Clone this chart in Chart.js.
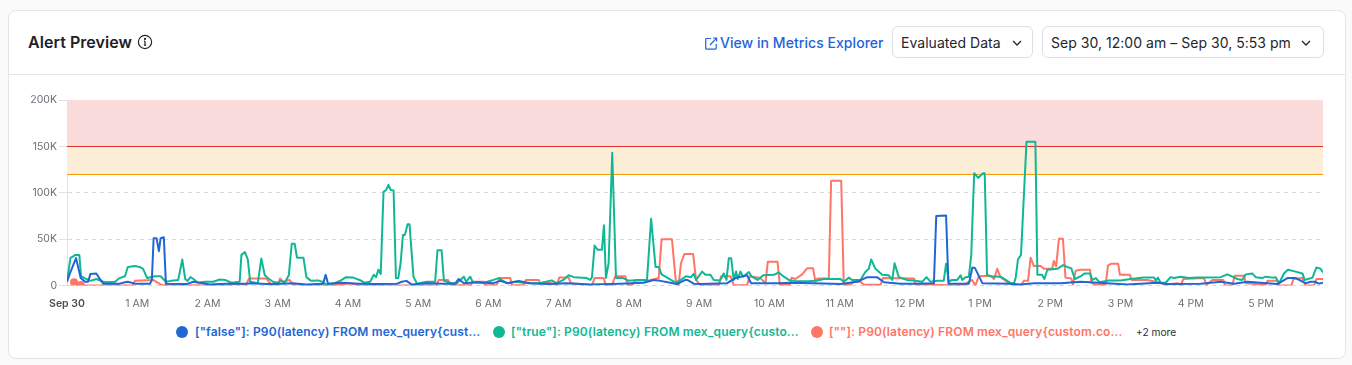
<!DOCTYPE html>
<html>
<head>
<meta charset="utf-8">
<title>Alert Preview</title>
<script src="https://cdn.jsdelivr.net/npm/chart.js@4"></script>
<style>
	html, body { margin: 0; padding: 0; background: #fafafa; font-family: Inter, sans-serif; }
	body { width: 1352px; height: 365px; overflow: hidden; position: relative; }
	.card { position: absolute; left: 8px; top: 10px; width: 1336px; height: 347px; background: #fff; border: 1px solid #e3e5ea; border-radius: 8px; box-sizing: content-box; }
	.divider { position: absolute; left: 9px; top: 74px; width: 1336px; height: 1px; background: #e3e5ea; }
	.abs { position: absolute; white-space: nowrap; }
	.title { left: 28px; top: 32px; font-size: 16px; line-height: 20px; font-weight: 600; color: #1d2026; letter-spacing: 0.05px; }
	.link { left: 720px; top: 34px; font-size: 14px; line-height: 18px; font-weight: 500; color: #1f63d8; letter-spacing: 0.05px; }
	.select { top: 26px; height: 32px; box-sizing: border-box; border: 1px solid #dcdfe6; border-radius: 6px; background: #fff; font-size: 14px; line-height: 31px; color: #23262d; padding-left: 8px; letter-spacing: 0.03px; }
	.select svg { position: absolute; top: 10px; }
	#chart-wrap { position: absolute; left: 8px; top: 85px; width: 1337px; height: 230px; }
	.legend-dot { width: 12px; height: 12px; border-radius: 50%; top: 326px; }
	.legend-text { top: 324px; font-size: 12px; line-height: 16px; font-weight: 600; letter-spacing: 0.15px; }
	.more { left: 1136px; top: 325px; font-size: 10.2px; line-height: 14px; color: #2b2e35; }
</style>
</head>
<body>
<div class="card"></div>
<div class="divider"></div>
<div class="abs title">Alert Preview</div>
<svg class="abs" style="left:137px;top:34px" width="16" height="16" viewBox="0 0 16 16" fill="none" stroke="#23262d" stroke-width="1.2">
	<circle cx="8" cy="8" r="6.6"></circle><path d="M8 7.2v4M6.8 11.2h2.4M6.9 7.2H8"></path><circle cx="8" cy="4.9" r="0.5" fill="#23262d"></circle>
</svg>
<svg class="abs" style="left:705px;top:37px" width="13" height="13" viewBox="0 0 13 13" fill="none" stroke="#1f63d8" stroke-width="1.2">
	<path d="M6 1.5H1.5a.8.8 0 0 0-.8.8v8.9c0 .5.4.9.8.9h8.9a.8.8 0 0 0 .8-.9V7"></path><path d="M5 8l6.5-6.8M8 1h3.6v3.6"></path>
</svg>
<div class="abs link">View in Metrics Explorer</div>
<div class="abs select" style="left:892px;width:141px">Evaluated Data
	<svg style="left:118px" width="12" height="12" viewBox="0 0 12 12" fill="none" stroke="#23262d" stroke-width="1.3"><path d="M2 4l4 4 4-4"></path></svg>
</div>
<div class="abs select" style="left:1042px;width:282px">Sep 30, 12:00 am – Sep 30, 5:53 pm
	<svg style="left:257px" width="12" height="12" viewBox="0 0 12 12" fill="none" stroke="#23262d" stroke-width="1.3"><path d="M2 4l4 4 4-4"></path></svg>
</div>
<div id="chart-wrap"><canvas id="alert-chart"></canvas></div>
<div id="legend"></div>
<div class="abs more">+2 more</div>

<script>
var series_names = [
	'["false"]: P90(latency) FROM mex_query{cust...',
	'["true"]: P90(latency) FROM mex_query{custo...',
	'[""]: P90(latency) FROM mex_query{custom.co...'
];
var series_colors = ["#2166d5", "#10b795", "#ff7566"];
var legend_dot_left = [176, 493, 811];
var legend_text_left = [195, 511, 829];

var y_ticks = [0, 50000, 100000, 150000, 200000];
var y_tick_labels = ["0", "50K", "100K", "150K", "200K"];
var x_tick_labels = ["Sep 30", "1 AM", "2 AM", "3 AM", "4 AM", "5 AM", "6 AM", "7 AM", "8 AM", "9 AM", "10 AM", "11 AM", "12 PM", "1 PM", "2 PM", "3 PM", "4 PM", "5 PM"];

// [minutes after midnight, value in K]
var false_points = [
	[0,4],[2.5,13],[7.7,29.5],[11.7,8],[15.4,4],[18,4],[20,12.5],[25,13],[27.6,8],[31,2],[39.5,2],[45,2],[49.5,3.5],[52,4],[58,2],[71,2],[72.5,6],[74,51],[76.5,51],[78.5,37],[80,51],[82.7,52],[84.5,2],
	[102,1.5],[108,4],[116,2.5],[122,1],[136,2],[153,2],[157.5,2.5],[170,1.5],[184.5,2],[193,2.5],[204.5,1],[218.7,2],[221,11.5],[223,2],[234.5,3],[250,2],[263,1.5],[282,2],[286,4],[290,5],[294.6,1],
	[307.4,2.5],[321.6,2],[331.6,2],[334.5,7],[339,2.5],[350,3.5],[364.4,2.5],[370,5],[377,2.5],[385.7,5],[395.7,2.5],[410,1.5],[427,2.5],[447,1],[472.6,2],[492.6,3],[501,6],[507,5],[515.4,3],[521,1.5],[528.2,6],
	[530,6],[535.4,2],[541,1.5],[564,2.5],[571,8],[581,11],[584.4,2.5],[606.7,2.5],[618,3],[638,2.5],[660.8,1.5],[675,4],[683.6,9],[692,9],[698,3.5],[712,2],[723.5,2],[740.6,2.5],[742.6,75],[751,75.5],[753,2],
	[770.5,2],[773.5,19.5],[775.6,19],[782,2.5],[806,2],[814.6,1],[826,2.5],[849,2.5],[866,4],[888.7,2.5],[905.8,1],[931.5,3],[940,1.5],[968.5,2],[985.6,4],[997,2],[1008.4,4],[1034,1.5],[1042.6,8],[1049.7,8],[1058,2.5],[1062.5,4],[1066,4],[1069.6,2],[1073,3]
];
var true_points = [
	[0,4],[3,30],[5,31],[7,33],[10.5,33],[12,10],[15,8],[20,5],[25,7],[31,4],[35,3.5],[41,4],[45,8],[49.5,10],[52,20],[58,21],[62,20],[65,18],[68.5,8],[75,10],[80,10],[84.5,4],[89,5],[95,6],[98.5,28],[101,7],[103,5],[105.5,9],[108,7],[112,3],[118,4],
	[125,4],[130.5,6.5],[135,6],[140.5,3],[147.5,4],[149,33],[152,36],[154.5,28],[156.5,4],[163,2.5],[166,29],[169,11],[172,7.5],[176,4],[180,3],[183,5],[186,3],[189.5,11],[192,45],[194.5,45],[196.5,30],[202,30],[204.5,9],[208.5,5],[214.5,5.5],[219,3.5],[221.5,1],[228.5,2.5],[234,5.5],[238.5,9],[244.5,8.5],[250,6],[254,3],
	[259,4],[262,11.5],[264,9],[266,17],[268,12.5],[270.4,101],[272.7,103],[274.6,108.5],[276.6,103],[279,102.5],[281,8],[283,8],[285,24],[287,54.5],[288.6,54.5],[291,66],[292.6,66],[296,9.5],[299,2],[303,3],[307.4,4],[314.5,4],[316.5,38],[320,38],[322,5],[329,2.5],[333,2.5],[336,6],[339,9.5],[341,4],[344.5,9.5],[346.7,3.5],
	[356,3],[364.4,6],[368.7,8],[375.8,2.5],[383,4],[393,2.5],[404,2.5],[414,5.5],[418.5,2.5],[424,6],[428.5,11],[433,9],[444,8],[447,6],[448.5,9],[450.7,43],[453.4,38.5],[457,38.5],[458.7,65],[460.4,8],[462.7,24],[465.8,143],[469,8],[475,8],[480,5],[487,6],[495.5,6],[499,72],[502.8,20],[505.5,20],[508,12],[516,6],[520,3],[524.4,6],[528.8,10],
	[533,9],[535.4,12.5],[537.4,6],[542.6,15],[545.4,11.5],[549.7,11.5],[552.5,6],[558,5.5],[561,13],[563.4,6],[565.4,29.5],[567.4,29.5],[569.6,6],[571.6,15],[573,7],[575.3,15],[577.6,9.5],[582.5,14.5],[585,9.5],[590,6],[594.7,11],[604,11.5],[608,14],[612.4,9.5],[616.6,6],[622.3,4.7],[633.7,4.7],[641,5.5],[646.6,7],[653.7,7],[660.8,7],[663.6,4],[668,8.5],[670.7,6],[677.9,6],[682,14.5],[685,18],[687,28],[690.7,18],[696.4,11.5],[702,11],[705,6],[707,24],[710.6,9],[717.8,6],
	[725,5],[730.6,4],[734.3,9],[737.7,4],[743.4,5],[749,5],[751,23.5],[753.4,4],[756,6],[760.5,6],[763.4,11],[764.8,6],[767.6,9],[770.5,9.5],[772.5,33],[775,121],[778.5,116],[782.5,121],[784,121],[786,11.5],[789,10],[797.5,9.5],[802,6],[806,2.5],[809,2.5],[810.4,8],[812.4,28],[815,33],[819.7,155],[827.3,155],[829,11.5],[833,11.5],[835,7],[837.5,17],[846,18],[851,22],[854.5,20],[858,18.5],[861,7],[866,10],[869.4,13],[874,13],[876,6],[879,8],[882,3.5],
	[890,5.5],[900,5.5],[908.7,7],[920,8.5],[928.6,8.5],[930.3,5.5],[932,8.5],[934.3,3],[938.6,3],[942.8,9],[945.7,8],[951.4,9.5],[958.5,8],[965.6,8.5],[974,8.5],[985.6,9],[991.3,12],[995.5,9.5],[999.8,7],[1004,6],[1007,12],[1012.6,13],[1015.5,9],[1021,8],[1024,9.5],[1029.7,8.5],[1032.6,9],[1035.4,2.5],[1039.7,13],[1043,17],[1048,15.5],[1055.4,13],[1057.4,6],[1064,8.5],[1067.4,19.5],[1071,18],[1073,14]
];
var empty_points = [
	[14,0],[56,0],[58,5],[73.5,6],[81,0.5],[120,0],[127.7,1],[136,0],[144.7,1.5],[153,0.7],[155.5,7.5],[170.3,7.5],[174.6,0.7],[180,0.7],[182,7.5],[184.5,4],[190,6],[193,1.5],[204.5,0],[233,0.7],[241.4,2.5],[250,0],[270.4,0],[315.5,0],[317.5,6],[325.5,6],[327.7,0.4],[345,0.4],[346.4,4],[356,4],[357,0.4],[367,0.4],[369.5,8],[378.7,8],[380,0.4],[390,0.4],[392,6],[403,6],[404.3,2.5],[410,4],[418.5,0.4],[420.5,8.5],[428.5,8.5],[430.5,2.5],[448.5,0.4],[450.7,8],[458.4,8],[460.4,0],[465.5,0],[468.4,10],[477,10],[479,0.4],[482.6,0.4],[485.5,5.5],[497,5.5],[505.5,8],[508,50],[516.8,50],[520,6],[522.5,0.4],[524.5,24],[527.5,34],
	[534.9,34],[537.4,6],[541,0.4],[556.8,0.4],[558.8,10],[566.8,10],[569.6,0.4],[581,0.4],[583.3,10],[592.4,8],[596.7,2.5],[598.7,25.5],[607,25.5],[609,0.7],[617.5,0.7],[619,8.5],[622.3,7],[628,12],[632.3,18.5],[637.4,18.5],[639.4,4],[641,7.5],[650.8,7.5],[652.8,113],[661.4,113],[663.6,0.7],[669.3,0.7],[672,4],[678,4],[680.7,0.7],[695,0.7],[697,8],[723.5,7.5],[725,0.7],[740.6,0.7],[757.7,0],[766,0.7],[773.3,6],[776,0],[779,10],[789,10.5],[792,7],[794.7,18],[797.5,9],[803,4],[809,0],
	[814.6,0],[817.5,5],[821,5],[823.2,30],[826,21],[831.7,21],[834.6,18],[841.7,18],[843,26.5],[845,20.5],[847.4,50.5],[850.8,50.5],[853,8.5],[858,7.5],[859.4,0.7],[861.7,16],[866,17],[874,17],[875,3],[878.7,0.7],[887.3,0.7],[889.3,21.5],[892,23.5],[898,23.5],[899.5,11.5],[908,11.5],[909.5,6],[923,6],[934.3,3],[938.6,0.7],[948.5,2.5],[951.4,0],[953.7,7],[971.3,8],[973.6,0.7],[978.5,6],[987.9,6],[989.3,0],[995.5,0],[997.5,10.5],[1005.5,10.5],[1007,2.5],[1024,0.7],[1025.5,5],[1034,5],[1035.4,0],[1046,0],[1047.7,7],[1055.4,8],[1058,0],[1065.4,0],[1067.4,7],[1073,7]
];
var empty_dots = [[6,3.5],[11.7,0.5]];

var critical_threshold = 150000;
var warning_threshold = 120000;
var y_max = 200000;

function to_xy(points) {
	return points.map(function (p) {
		return { x: p[0], y: p[1] * 1000 };
	});
}

function line_dataset(points, color) {
	return {
		data: to_xy(points),
		borderColor: color,
		backgroundColor: color,
		borderWidth: 2,
		pointRadius: 0,
		tension: 0,
		borderJoinStyle: "round",
	};
}

// Threshold bands sit under the series.
var threshold_bands = {
	id: "threshold_bands",
	beforeDatasetsDraw: function (chart) {
		var ctx = chart.ctx,
			area = chart.chartArea,
			y = chart.scales.y;
		var top = y.getPixelForValue(y_max),
			crit = y.getPixelForValue(critical_threshold),
			warn = y.getPixelForValue(warning_threshold);

		ctx.save();
		ctx.fillStyle = "#fbdcdc";
		ctx.fillRect(area.left, top, area.width, crit - top);
		ctx.fillStyle = "#fdeed8";
		ctx.fillRect(area.left, crit, area.width, warn - crit);
		ctx.lineWidth = 1;
		ctx.strokeStyle = "#e8302a";
		ctx.beginPath();
		ctx.moveTo(area.left, Math.round(crit) + 0.5);
		ctx.lineTo(area.right, Math.round(crit) + 0.5);
		ctx.stroke();
		ctx.strokeStyle = "#f59a0c";
		ctx.beginPath();
		ctx.moveTo(area.left, Math.round(warn) + 0.5);
		ctx.lineTo(area.right, Math.round(warn) + 0.5);
		ctx.stroke();
		ctx.restore();
	},
};

var legend_html = [];
series_names.forEach(function (name, i) {
	legend_html.push('<div class="abs legend-dot" style="left:' + legend_dot_left[i] + "px;background:" + series_colors[i] + '"></div>');
	legend_html.push('<div class="abs legend-text" style="left:' + legend_text_left[i] + "px;color:" + series_colors[i] + '"></div>');
});
document.getElementById("legend").innerHTML = legend_html.join("");
document.querySelectorAll(".legend-text").forEach(function (el, i) {
	el.textContent = series_names[i];
});

new Chart(document.getElementById("alert-chart"), {
	type: "line",
	data: {
		datasets: [
			line_dataset(false_points, series_colors[0]),
			line_dataset(true_points, series_colors[1]),
			line_dataset(empty_points, series_colors[2]),
			{
				data: to_xy(empty_dots),
				showLine: false,
				pointRadius: 4,
				pointBorderWidth: 0,
				pointBackgroundColor: series_colors[2],
			},
		],
	},
	plugins: [threshold_bands],
	options: {
		responsive: true,
		maintainAspectRatio: false,
		animation: false,
		layout: { padding: { top: 15, right: 22, left: 0, bottom: 0 } },
		plugins: { legend: { display: false }, tooltip: { enabled: false } },
		scales: {
			x: {
				type: "linear",
				min: 0,
				max: 1073,
				border: { display: false },
				grid: { display: false },
				afterFit: function (scale) {
					scale.height = 29.5;
				},
				ticks: {
					stepSize: 60,
					includeBounds: false,
					autoSkip: false,
					maxRotation: 0,
					padding: 4,
					color: function (ctx) {
						return ctx.index === 0 ? "#4b4f58" : "#6b6f78";
					},
					font: function (ctx) {
						return { family: "Inter", size: 10.5, weight: ctx.index === 0 ? "600" : "400" };
					},
					callback: function (value) {
						return x_tick_labels[value / 60];
					},
				},
			},
			y: {
				min: 0,
				max: y_max,
				afterFit: function (scale) {
					scale.width = 59;
				},
				afterBuildTicks: function (scale) {
					scale.ticks = y_ticks.map(function (v) {
						return { value: v };
					});
				},
				border: { display: true, color: "#dfe1e5", dash: [4, 4] },
				grid: {
					color: "#d6d8dc",
					tickBorderDash: [],
					tickColor: "#dfe1e5",
					tickLength: 8,
				},
				ticks: {
					padding: 2,
					color: "#6b6f78",
					font: { family: "Inter", size: 10.5 },
					callback: function (value) {
						return y_tick_labels[y_ticks.indexOf(value)];
					},
				},
			},
		},
	},
});
</script>
</body>
</html>
